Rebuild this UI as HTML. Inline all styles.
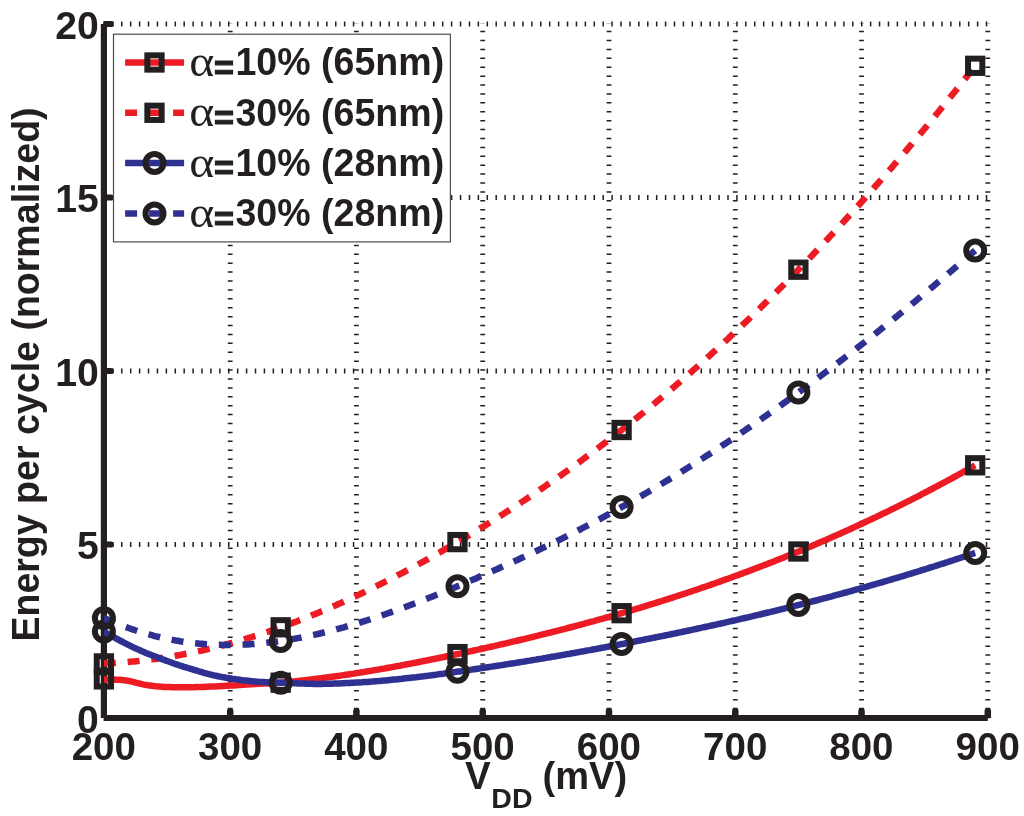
<!DOCTYPE html><html><head><meta charset="utf-8"><title>Energy per cycle vs VDD</title>
<style>html,body{margin:0;padding:0;background:#fff}svg{display:block}text{font-family:"Liberation Sans",sans-serif;font-weight:bold;fill:#231f20}.sym{font-family:"Liberation Serif",serif;font-weight:normal}</style></head><body>
<svg width="1024" height="816" viewBox="0 0 1024 816">
<rect width="1024" height="816" fill="#fff"/>
<g stroke="#231f20" stroke-width="4.8" fill="none">
<line x1="103.2" y1="544.5" x2="988.6" y2="544.5" stroke-dasharray="1.5 7.415"/>
<line x1="103.2" y1="371.0" x2="988.6" y2="371.0" stroke-dasharray="1.5 7.415"/>
<line x1="103.2" y1="197.5" x2="988.6" y2="197.5" stroke-dasharray="1.5 7.415"/>
<line x1="103.2" y1="24.0" x2="988.6" y2="24.0" stroke-dasharray="1.5 7.415"/>
<line x1="230.2" y1="718.2" x2="230.2" y2="23.3" stroke-dasharray="1.5 7.407"/>
<line x1="356.4" y1="718.2" x2="356.4" y2="23.3" stroke-dasharray="1.5 7.407"/>
<line x1="482.7" y1="718.2" x2="482.7" y2="23.3" stroke-dasharray="1.5 7.407"/>
<line x1="609.0" y1="718.2" x2="609.0" y2="23.3" stroke-dasharray="1.5 7.407"/>
<line x1="735.3" y1="718.2" x2="735.3" y2="23.3" stroke-dasharray="1.5 7.407"/>
<line x1="861.5" y1="718.2" x2="861.5" y2="23.3" stroke-dasharray="1.5 7.407"/>
<line x1="987.8" y1="718.2" x2="987.8" y2="23.3" stroke-dasharray="1.5 7.407"/>
</g>
<g fill="#231f20" stroke="none">
<rect x="100.8" y="24.0" width="6.2" height="694.0"/>
<rect x="103.6" y="715.0" width="884.2" height="6"/>
<path d="M226.92,718.0 V711.25 A3.25 3.25 0 0 1 233.42,711.25 V718.0 Z"/>
<path d="M353.19,718.0 V711.25 A3.25 3.25 0 0 1 359.69,711.25 V718.0 Z"/>
<path d="M479.46,718.0 V711.25 A3.25 3.25 0 0 1 485.96,711.25 V718.0 Z"/>
<path d="M605.74,718.0 V711.25 A3.25 3.25 0 0 1 612.24,711.25 V718.0 Z"/>
<path d="M732.01,718.0 V711.25 A3.25 3.25 0 0 1 738.51,711.25 V718.0 Z"/>
<path d="M858.28,718.0 V711.25 A3.25 3.25 0 0 1 864.78,711.25 V718.0 Z"/>
<path d="M984.55,718.0 V711.25 A3.25 3.25 0 0 1 991.05,711.25 V718.0 Z"/>
<path d="M103.9,541.40 H110.80 A3.1 3.1 0 0 1 110.80,547.60 H103.9 Z"/>
<path d="M103.9,367.90 H110.80 A3.1 3.1 0 0 1 110.80,374.10 H103.9 Z"/>
<path d="M103.9,194.40 H110.80 A3.1 3.1 0 0 1 110.80,200.60 H103.9 Z"/>
<path d="M103.9,20.90 H110.80 A3.1 3.1 0 0 1 110.80,27.10 H103.9 Z"/>
</g>
<clipPath id="c"><rect x="103.9" y="0" width="900" height="816"/></clipPath>
<path d="M103.9,679.4 L105.9,679.5 L107.9,679.5 L109.9,679.5 L111.9,679.6 L113.9,679.6 L115.9,679.7 L117.9,679.7 L119.9,679.8 L121.9,680.0 L123.9,680.2 L125.9,680.4 L127.9,680.7 L129.9,681.1 L131.9,681.6 L133.9,682.1 L135.9,682.7 L137.9,683.2 L139.9,683.7 L141.9,684.2 L143.9,684.6 L145.9,684.9 L147.9,685.3 L149.9,685.6 L151.9,685.8 L153.9,686.1 L155.9,686.3 L157.9,686.4 L159.9,686.6 L161.9,686.7 L163.9,686.9 L165.9,687.0 L167.9,687.1 L169.9,687.1 L171.9,687.2 L173.9,687.2 L175.9,687.3 L177.9,687.3 L179.9,687.3 L181.9,687.3 L183.9,687.3 L185.9,687.3 L187.9,687.3 L189.9,687.3 L191.9,687.2 L193.9,687.2 L195.9,687.1 L197.9,687.1 L199.9,687.0 L201.9,687.0 L203.9,686.9 L205.9,686.8 L207.9,686.7 L209.9,686.6 L211.9,686.6 L213.9,686.5 L215.9,686.4 L217.9,686.3 L219.9,686.2 L221.9,686.1 L223.9,686.0 L225.9,685.8 L227.9,685.7 L229.9,685.6 L231.9,685.5 L233.9,685.4 L235.9,685.3 L237.9,685.1 L239.9,685.0 L241.9,684.8 L243.9,684.7 L245.9,684.6 L247.9,684.4 L249.9,684.3 L251.9,684.2 L253.9,684.0 L255.9,683.9 L257.9,683.8 L259.9,683.7 L261.9,683.6 L263.9,683.5 L265.9,683.5 L267.9,683.4 L269.9,683.3 L271.9,683.2 L273.9,683.1 L275.9,683.0 L277.9,682.9 L279.9,682.8 L281.9,682.6 L283.9,682.5 L285.9,682.3 L287.9,682.1 L289.9,681.9 L291.9,681.7 L293.9,681.5 L295.9,681.3 L297.9,681.1 L299.9,680.8 L301.9,680.6 L303.9,680.4 L305.9,680.1 L307.9,679.9 L309.9,679.6 L311.9,679.4 L313.9,679.1 L315.9,678.9 L317.9,678.6 L319.9,678.4 L321.9,678.1 L323.9,677.8 L325.9,677.6 L327.9,677.3 L329.9,677.0 L331.9,676.8 L333.9,676.5 L335.9,676.2 L337.9,675.9 L339.9,675.7 L341.9,675.4 L343.9,675.1 L345.9,674.8 L347.9,674.5 L349.9,674.2 L351.9,673.9 L353.9,673.6 L355.9,673.2 L357.9,672.9 L359.9,672.6 L361.9,672.3 L363.9,672.0 L365.9,671.6 L367.9,671.3 L369.9,671.0 L371.9,670.6 L373.9,670.3 L375.9,669.9 L377.9,669.6 L379.9,669.3 L381.9,668.9 L383.9,668.6 L385.9,668.2 L387.9,667.8 L389.9,667.5 L391.9,667.1 L393.9,666.8 L395.9,666.4 L397.9,666.0 L399.9,665.7 L401.9,665.3 L403.9,664.9 L405.9,664.5 L407.9,664.1 L409.9,663.8 L411.9,663.4 L413.9,663.0 L415.9,662.6 L417.9,662.2 L419.9,661.8 L421.9,661.4 L423.9,661.0 L425.9,660.6 L427.9,660.2 L429.9,659.8 L431.9,659.4 L433.9,659.0 L435.9,658.6 L437.9,658.2 L439.9,657.8 L441.9,657.4 L443.9,657.0 L445.9,656.5 L447.9,656.1 L449.9,655.7 L451.9,655.3 L453.9,654.9 L455.9,654.4 L457.9,654.0 L459.9,653.6 L461.9,653.1 L463.9,652.7 L465.9,652.3 L467.9,651.9 L469.9,651.4 L471.9,651.0 L473.9,650.5 L475.9,650.1 L477.9,649.7 L479.9,649.2 L481.9,648.8 L483.9,648.3 L485.9,647.9 L487.9,647.4 L489.9,647.0 L491.9,646.5 L493.9,646.1 L495.9,645.6 L497.9,645.2 L499.9,644.7 L501.9,644.2 L503.9,643.8 L505.9,643.3 L507.9,642.9 L509.9,642.4 L511.9,641.9 L513.9,641.4 L515.9,641.0 L517.9,640.5 L519.9,640.0 L521.9,639.5 L523.9,639.1 L525.9,638.6 L527.9,638.1 L529.9,637.6 L531.9,637.1 L533.9,636.6 L535.9,636.1 L537.9,635.7 L539.9,635.2 L541.9,634.7 L543.9,634.2 L545.9,633.7 L547.9,633.2 L549.9,632.7 L551.9,632.2 L553.9,631.6 L555.9,631.1 L557.9,630.6 L559.9,630.1 L561.9,629.6 L563.9,629.1 L565.9,628.6 L567.9,628.0 L569.9,627.5 L571.9,627.0 L573.9,626.5 L575.9,625.9 L577.9,625.4 L579.9,624.9 L581.9,624.3 L583.9,623.8 L585.9,623.2 L587.9,622.7 L589.9,622.1 L591.9,621.6 L593.9,621.1 L595.9,620.5 L597.9,619.9 L599.9,619.4 L601.9,618.8 L603.9,618.3 L605.9,617.7 L607.9,617.1 L609.9,616.6 L611.9,616.0 L613.9,615.4 L615.9,614.9 L617.9,614.3 L619.9,613.7 L621.9,613.1 L623.9,612.5 L625.9,611.9 L627.9,611.4 L629.9,610.8 L631.9,610.2 L633.9,609.6 L635.9,609.0 L637.9,608.4 L639.9,607.8 L641.9,607.2 L643.9,606.6 L645.9,605.9 L647.9,605.3 L649.9,604.7 L651.9,604.1 L653.9,603.5 L655.9,602.9 L657.9,602.2 L659.9,601.6 L661.9,601.0 L663.9,600.3 L665.9,599.7 L667.9,599.1 L669.9,598.4 L671.9,597.8 L673.9,597.1 L675.9,596.5 L677.9,595.8 L679.9,595.2 L681.9,594.5 L683.9,593.9 L685.9,593.2 L687.9,592.5 L689.9,591.9 L691.9,591.2 L693.9,590.5 L695.9,589.9 L697.9,589.2 L699.9,588.5 L701.9,587.8 L703.9,587.1 L705.9,586.5 L707.9,585.8 L709.9,585.1 L711.9,584.4 L713.9,583.7 L715.9,583.0 L717.9,582.3 L719.9,581.6 L721.9,580.8 L723.9,580.1 L725.9,579.4 L727.9,578.7 L729.9,578.0 L731.9,577.3 L733.9,576.5 L735.9,575.8 L737.9,575.1 L739.9,574.3 L741.9,573.6 L743.9,572.8 L745.9,572.1 L747.9,571.4 L749.9,570.6 L751.9,569.9 L753.9,569.1 L755.9,568.3 L757.9,567.6 L759.9,566.8 L761.9,566.0 L763.9,565.3 L765.9,564.5 L767.9,563.7 L769.9,562.9 L771.9,562.2 L773.9,561.4 L775.9,560.6 L777.9,559.8 L779.9,559.0 L781.9,558.2 L783.9,557.4 L785.9,556.6 L787.9,555.8 L789.9,555.0 L791.9,554.2 L793.9,553.3 L795.9,552.5 L797.9,551.7 L799.9,550.9 L801.9,550.0 L803.9,549.2 L805.9,548.4 L807.9,547.5 L809.9,546.7 L811.9,545.9 L813.9,545.0 L815.9,544.2 L817.9,543.3 L819.9,542.4 L821.9,541.6 L823.9,540.7 L825.9,539.9 L827.9,539.0 L829.9,538.1 L831.9,537.2 L833.9,536.3 L835.9,535.5 L837.9,534.6 L839.9,533.7 L841.9,532.8 L843.9,531.9 L845.9,531.0 L847.9,530.1 L849.9,529.2 L851.9,528.3 L853.9,527.4 L855.9,526.4 L857.9,525.5 L859.9,524.6 L861.9,523.7 L863.9,522.7 L865.9,521.8 L867.9,520.9 L869.9,519.9 L871.9,519.0 L873.9,518.0 L875.9,517.1 L877.9,516.1 L879.9,515.2 L881.9,514.2 L883.9,513.2 L885.9,512.3 L887.9,511.3 L889.9,510.3 L891.9,509.3 L893.9,508.4 L895.9,507.4 L897.9,506.4 L899.9,505.4 L901.9,504.4 L903.9,503.4 L905.9,502.4 L907.9,501.4 L909.9,500.4 L911.9,499.4 L913.9,498.3 L915.9,497.3 L917.9,496.3 L919.9,495.3 L921.9,494.2 L923.9,493.2 L925.9,492.1 L927.9,491.1 L929.9,490.0 L931.9,489.0 L933.9,487.9 L935.9,486.9 L937.9,485.8 L939.9,484.7 L941.9,483.7 L943.9,482.6 L945.9,481.5 L947.9,480.4 L949.9,479.4 L951.9,478.3 L953.9,477.2 L955.9,476.1 L957.9,475.0 L959.9,473.9 L961.9,472.8 L963.9,471.6 L965.9,470.5 L967.9,469.4 L969.9,468.3 L971.9,467.2 L973.9,466.0 L975.2,465.3" fill="none" stroke="#ed1c24" stroke-width="6.5" clip-path="url(#c)"/>
<g fill="none" stroke="#231f20" stroke-width="6.0">
<rect x="96.75" y="672.25" width="14.3" height="14.3"/>
<rect x="273.53" y="675.55" width="14.3" height="14.3"/>
<rect x="450.31" y="646.95" width="14.3" height="14.3"/>
<rect x="614.46" y="606.05" width="14.3" height="14.3"/>
<rect x="791.24" y="544.35" width="14.3" height="14.3"/>
<rect x="968.02" y="458.15" width="14.3" height="14.3"/>
</g>
<path d="M103.9,663.4 L105.9,663.3 L107.9,663.2 L109.9,663.2 L111.9,663.1 L113.9,663.0 L115.9,662.8 L117.9,662.7 L119.9,662.6 L121.9,662.5 L123.9,662.3 L125.9,662.2 L127.9,662.0 L129.9,661.8 L131.9,661.6 L133.9,661.5 L135.9,661.3 L137.9,661.1 L139.9,660.8 L141.9,660.6 L143.9,660.4 L145.9,660.2 L147.9,659.9 L149.9,659.7 L151.9,659.4 L153.9,659.1 L155.9,658.9 L157.9,658.6 L159.9,658.3 L161.9,658.0 L163.9,657.7 L165.9,657.4 L167.9,657.1 L169.9,656.7 L171.9,656.4 L173.9,656.1 L175.9,655.7 L177.9,655.3 L179.9,655.0 L181.9,654.6 L183.9,654.2 L185.9,653.8 L187.9,653.4 L189.9,653.0 L191.9,652.6 L193.9,652.2 L195.9,651.8 L197.9,651.3 L199.9,650.9 L201.9,650.5 L203.9,650.0 L205.9,649.5 L207.9,649.1 L209.9,648.6 L211.9,648.1 L213.9,647.6 L215.9,647.1 L217.9,646.6 L219.9,646.1 L221.9,645.6 L223.9,645.1 L225.9,644.5 L227.9,644.0 L229.9,643.4 L231.9,642.9 L233.9,642.3 L235.9,641.8 L237.9,641.2 L239.9,640.6 L241.9,640.0 L243.9,639.4 L245.9,638.8 L247.9,638.2 L249.9,637.6 L251.9,637.0 L253.9,636.3 L255.9,635.7 L257.9,635.1 L259.9,634.4 L261.9,633.8 L263.9,633.1 L265.9,632.4 L267.9,631.8 L269.9,631.1 L271.9,630.4 L273.9,629.7 L275.9,629.0 L277.9,628.3 L279.9,627.6 L281.9,626.9 L283.9,626.1 L285.9,625.4 L287.9,624.7 L289.9,623.9 L291.9,623.2 L293.9,622.4 L295.9,621.7 L297.9,620.9 L299.9,620.1 L301.9,619.3 L303.9,618.5 L305.9,617.8 L307.9,617.0 L309.9,616.2 L311.9,615.3 L313.9,614.5 L315.9,613.7 L317.9,612.9 L319.9,612.0 L321.9,611.2 L323.9,610.4 L325.9,609.5 L327.9,608.7 L329.9,607.8 L331.9,606.9 L333.9,606.0 L335.9,605.2 L337.9,604.3 L339.9,603.4 L341.9,602.5 L343.9,601.6 L345.9,600.7 L347.9,599.8 L349.9,598.9 L351.9,597.9 L353.9,597.0 L355.9,596.1 L357.9,595.1 L359.9,594.2 L361.9,593.2 L363.9,592.3 L365.9,591.3 L367.9,590.4 L369.9,589.4 L371.9,588.4 L373.9,587.4 L375.9,586.4 L377.9,585.4 L379.9,584.4 L381.9,583.4 L383.9,582.4 L385.9,581.4 L387.9,580.4 L389.9,579.4 L391.9,578.4 L393.9,577.3 L395.9,576.3 L397.9,575.2 L399.9,574.2 L401.9,573.2 L403.9,572.1 L405.9,571.0 L407.9,570.0 L409.9,568.9 L411.9,567.8 L413.9,566.7 L415.9,565.7 L417.9,564.6 L419.9,563.5 L421.9,562.4 L423.9,561.3 L425.9,560.2 L427.9,559.1 L429.9,557.9 L431.9,556.8 L433.9,555.7 L435.9,554.6 L437.9,553.4 L439.9,552.3 L441.9,551.1 L443.9,550.0 L445.9,548.8 L447.9,547.7 L449.9,546.5 L451.9,545.4 L453.9,544.2 L455.9,543.0 L457.9,541.8 L459.9,540.7 L461.9,539.5 L463.9,538.3 L465.9,537.1 L467.9,535.9 L469.9,534.7 L471.9,533.5 L473.9,532.3 L475.9,531.1 L477.9,529.8 L479.9,528.6 L481.9,527.4 L483.9,526.2 L485.9,524.9 L487.9,523.7 L489.9,522.4 L491.9,521.2 L493.9,519.9 L495.9,518.7 L497.9,517.4 L499.9,516.1 L501.9,514.9 L503.9,513.6 L505.9,512.3 L507.9,511.0 L509.9,509.7 L511.9,508.4 L513.9,507.1 L515.9,505.8 L517.9,504.5 L519.9,503.2 L521.9,501.9 L523.9,500.6 L525.9,499.3 L527.9,497.9 L529.9,496.6 L531.9,495.2 L533.9,493.9 L535.9,492.5 L537.9,491.2 L539.9,489.8 L541.9,488.5 L543.9,487.1 L545.9,485.7 L547.9,484.3 L549.9,483.0 L551.9,481.6 L553.9,480.2 L555.9,478.8 L557.9,477.4 L559.9,476.0 L561.9,474.6 L563.9,473.1 L565.9,471.7 L567.9,470.3 L569.9,468.9 L571.9,467.4 L573.9,466.0 L575.9,464.5 L577.9,463.1 L579.9,461.6 L581.9,460.1 L583.9,458.7 L585.9,457.2 L587.9,455.7 L589.9,454.2 L591.9,452.7 L593.9,451.3 L595.9,449.8 L597.9,448.3 L599.9,446.7 L601.9,445.2 L603.9,443.7 L605.9,442.2 L607.9,440.6 L609.9,439.1 L611.9,437.6 L613.9,436.0 L615.9,434.5 L617.9,432.9 L619.9,431.3 L621.9,429.8 L623.9,428.2 L625.9,426.6 L627.9,425.0 L629.9,423.4 L631.9,421.8 L633.9,420.2 L635.9,418.6 L637.9,417.0 L639.9,415.4 L641.9,413.8 L643.9,412.2 L645.9,410.5 L647.9,408.9 L649.9,407.2 L651.9,405.6 L653.9,403.9 L655.9,402.3 L657.9,400.6 L659.9,398.9 L661.9,397.2 L663.9,395.6 L665.9,393.9 L667.9,392.2 L669.9,390.5 L671.9,388.8 L673.9,387.1 L675.9,385.3 L677.9,383.6 L679.9,381.9 L681.9,380.2 L683.9,378.4 L685.9,376.7 L687.9,374.9 L689.9,373.2 L691.9,371.4 L693.9,369.6 L695.9,367.9 L697.9,366.1 L699.9,364.3 L701.9,362.5 L703.9,360.7 L705.9,358.9 L707.9,357.1 L709.9,355.3 L711.9,353.5 L713.9,351.7 L715.9,349.9 L717.9,348.0 L719.9,346.2 L721.9,344.3 L723.9,342.5 L725.9,340.6 L727.9,338.8 L729.9,336.9 L731.9,335.0 L733.9,333.2 L735.9,331.3 L737.9,329.4 L739.9,327.5 L741.9,325.6 L743.9,323.7 L745.9,321.8 L747.9,319.9 L749.9,318.0 L751.9,316.0 L753.9,314.1 L755.9,312.2 L757.9,310.2 L759.9,308.3 L761.9,306.3 L763.9,304.4 L765.9,302.4 L767.9,300.4 L769.9,298.5 L771.9,296.5 L773.9,294.5 L775.9,292.5 L777.9,290.5 L779.9,288.5 L781.9,286.5 L783.9,284.5 L785.9,282.4 L787.9,280.4 L789.9,278.4 L791.9,276.4 L793.9,274.3 L795.9,272.3 L797.9,270.2 L799.9,268.1 L801.9,266.1 L803.9,264.0 L805.9,261.9 L807.9,259.9 L809.9,257.8 L811.9,255.7 L813.9,253.6 L815.9,251.5 L817.9,249.4 L819.9,247.2 L821.9,245.1 L823.9,243.0 L825.9,240.9 L827.9,238.7 L829.9,236.6 L831.9,234.4 L833.9,232.3 L835.9,230.1 L837.9,228.0 L839.9,225.8 L841.9,223.6 L843.9,221.4 L845.9,219.2 L847.9,217.0 L849.9,214.8 L851.9,212.6 L853.9,210.4 L855.9,208.2 L857.9,206.0 L859.9,203.8 L861.9,201.5 L863.9,199.3 L865.9,197.0 L867.9,194.8 L869.9,192.5 L871.9,190.3 L873.9,188.0 L875.9,185.7 L877.9,183.5 L879.9,181.2 L881.9,178.9 L883.9,176.6 L885.9,174.3 L887.9,172.0 L889.9,169.7 L891.9,167.4 L893.9,165.0 L895.9,162.7 L897.9,160.4 L899.9,158.0 L901.9,155.7 L903.9,153.3 L905.9,151.0 L907.9,148.6 L909.9,146.2 L911.9,143.9 L913.9,141.5 L915.9,139.1 L917.9,136.7 L919.9,134.3 L921.9,131.9 L923.9,129.5 L925.9,127.1 L927.9,124.7 L929.9,122.2 L931.9,119.8 L933.9,117.4 L935.9,114.9 L937.9,112.5 L939.9,110.0 L941.9,107.6 L943.9,105.1 L945.9,102.6 L947.9,100.1 L949.9,97.7 L951.9,95.2 L953.9,92.7 L955.9,90.2 L957.9,87.7 L959.9,85.2 L961.9,82.6 L963.9,80.1 L965.9,77.6 L967.9,75.1 L969.9,72.5 L971.9,70.0 L973.9,67.4 L975.2,65.8" fill="none" stroke="#ed1c24" stroke-width="6.5" clip-path="url(#c)" stroke-dasharray="12 11.745"/>
<g fill="none" stroke="#231f20" stroke-width="6.0">
<rect x="96.75" y="656.25" width="14.3" height="14.3"/>
<rect x="273.53" y="620.15" width="14.3" height="14.3"/>
<rect x="450.31" y="534.95" width="14.3" height="14.3"/>
<rect x="614.46" y="422.85" width="14.3" height="14.3"/>
<rect x="791.24" y="262.55" width="14.3" height="14.3"/>
<rect x="968.02" y="58.65" width="14.3" height="14.3"/>
</g>
<path d="M103.9,631.6 L105.9,632.7 L107.9,633.9 L109.9,635.0 L111.9,636.1 L113.9,637.2 L115.9,638.3 L117.9,639.4 L119.9,640.5 L121.9,641.5 L123.9,642.6 L125.9,643.6 L127.9,644.6 L129.9,645.6 L131.9,646.6 L133.9,647.6 L135.9,648.5 L137.9,649.4 L139.9,650.3 L141.9,651.2 L143.9,652.0 L145.9,652.9 L147.9,653.7 L149.9,654.5 L151.9,655.3 L153.9,656.0 L155.9,656.8 L157.9,657.6 L159.9,658.3 L161.9,659.1 L163.9,659.8 L165.9,660.6 L167.9,661.3 L169.9,662.0 L171.9,662.8 L173.9,663.5 L175.9,664.2 L177.9,664.8 L179.9,665.5 L181.9,666.1 L183.9,666.8 L185.9,667.4 L187.9,668.0 L189.9,668.6 L191.9,669.2 L193.9,669.8 L195.9,670.4 L197.9,671.0 L199.9,671.6 L201.9,672.2 L203.9,672.8 L205.9,673.3 L207.9,673.9 L209.9,674.4 L211.9,674.9 L213.9,675.4 L215.9,675.8 L217.9,676.2 L219.9,676.6 L221.9,677.0 L223.9,677.3 L225.9,677.7 L227.9,678.0 L229.9,678.3 L231.9,678.7 L233.9,679.0 L235.9,679.3 L237.9,679.6 L239.9,679.8 L241.9,680.1 L243.9,680.4 L245.9,680.6 L247.9,680.8 L249.9,681.0 L251.9,681.2 L253.9,681.4 L255.9,681.6 L257.9,681.7 L259.9,681.9 L261.9,682.0 L263.9,682.1 L265.9,682.2 L267.9,682.3 L269.9,682.4 L271.9,682.4 L273.9,682.5 L275.9,682.6 L277.9,682.6 L279.9,682.7 L281.9,682.7 L283.9,682.8 L285.9,682.9 L287.9,683.0 L289.9,683.1 L291.9,683.1 L293.9,683.2 L295.9,683.3 L297.9,683.4 L299.9,683.5 L301.9,683.6 L303.9,683.6 L305.9,683.7 L307.9,683.7 L309.9,683.8 L311.9,683.8 L313.9,683.9 L315.9,683.9 L317.9,683.9 L319.9,683.9 L321.9,683.9 L323.9,683.8 L325.9,683.8 L327.9,683.8 L329.9,683.7 L331.9,683.7 L333.9,683.6 L335.9,683.5 L337.9,683.5 L339.9,683.4 L341.9,683.3 L343.9,683.2 L345.9,683.1 L347.9,683.1 L349.9,683.0 L351.9,682.8 L353.9,682.7 L355.9,682.6 L357.9,682.5 L359.9,682.4 L361.9,682.3 L363.9,682.1 L365.9,682.0 L367.9,681.9 L369.9,681.7 L371.9,681.6 L373.9,681.4 L375.9,681.2 L377.9,681.1 L379.9,680.9 L381.9,680.7 L383.9,680.5 L385.9,680.4 L387.9,680.2 L389.9,680.0 L391.9,679.8 L393.9,679.6 L395.9,679.4 L397.9,679.2 L399.9,679.0 L401.9,678.8 L403.9,678.5 L405.9,678.3 L407.9,678.1 L409.9,677.9 L411.9,677.6 L413.9,677.4 L415.9,677.2 L417.9,676.9 L419.9,676.7 L421.9,676.4 L423.9,676.2 L425.9,675.9 L427.9,675.7 L429.9,675.4 L431.9,675.2 L433.9,674.9 L435.9,674.7 L437.9,674.4 L439.9,674.1 L441.9,673.9 L443.9,673.6 L445.9,673.3 L447.9,673.0 L449.9,672.8 L451.9,672.5 L453.9,672.2 L455.9,671.9 L457.9,671.6 L459.9,671.4 L461.9,671.1 L463.9,670.8 L465.9,670.5 L467.9,670.2 L469.9,669.9 L471.9,669.6 L473.9,669.3 L475.9,669.0 L477.9,668.7 L479.9,668.4 L481.9,668.1 L483.9,667.8 L485.9,667.5 L487.9,667.2 L489.9,666.9 L491.9,666.6 L493.9,666.3 L495.9,666.0 L497.9,665.7 L499.9,665.4 L501.9,665.1 L503.9,664.8 L505.9,664.4 L507.9,664.1 L509.9,663.8 L511.9,663.5 L513.9,663.2 L515.9,662.9 L517.9,662.5 L519.9,662.2 L521.9,661.9 L523.9,661.6 L525.9,661.2 L527.9,660.9 L529.9,660.6 L531.9,660.2 L533.9,659.9 L535.9,659.6 L537.9,659.2 L539.9,658.9 L541.9,658.6 L543.9,658.2 L545.9,657.9 L547.9,657.5 L549.9,657.2 L551.9,656.8 L553.9,656.5 L555.9,656.2 L557.9,655.8 L559.9,655.5 L561.9,655.1 L563.9,654.8 L565.9,654.4 L567.9,654.0 L569.9,653.7 L571.9,653.3 L573.9,653.0 L575.9,652.6 L577.9,652.3 L579.9,651.9 L581.9,651.5 L583.9,651.2 L585.9,650.8 L587.9,650.4 L589.9,650.1 L591.9,649.7 L593.9,649.3 L595.9,649.0 L597.9,648.6 L599.9,648.2 L601.9,647.8 L603.9,647.5 L605.9,647.1 L607.9,646.7 L609.9,646.3 L611.9,646.0 L613.9,645.6 L615.9,645.2 L617.9,644.8 L619.9,644.4 L621.9,644.0 L623.9,643.7 L625.9,643.3 L627.9,642.9 L629.9,642.5 L631.9,642.1 L633.9,641.7 L635.9,641.3 L637.9,640.9 L639.9,640.5 L641.9,640.1 L643.9,639.7 L645.9,639.3 L647.9,638.9 L649.9,638.5 L651.9,638.1 L653.9,637.7 L655.9,637.3 L657.9,636.9 L659.9,636.5 L661.9,636.1 L663.9,635.7 L665.9,635.3 L667.9,634.9 L669.9,634.5 L671.9,634.0 L673.9,633.6 L675.9,633.2 L677.9,632.8 L679.9,632.4 L681.9,632.0 L683.9,631.5 L685.9,631.1 L687.9,630.7 L689.9,630.3 L691.9,629.8 L693.9,629.4 L695.9,629.0 L697.9,628.5 L699.9,628.1 L701.9,627.7 L703.9,627.2 L705.9,626.8 L707.9,626.4 L709.9,625.9 L711.9,625.5 L713.9,625.0 L715.9,624.6 L717.9,624.1 L719.9,623.7 L721.9,623.3 L723.9,622.8 L725.9,622.4 L727.9,621.9 L729.9,621.4 L731.9,621.0 L733.9,620.5 L735.9,620.1 L737.9,619.6 L739.9,619.2 L741.9,618.7 L743.9,618.2 L745.9,617.8 L747.9,617.3 L749.9,616.8 L751.9,616.4 L753.9,615.9 L755.9,615.4 L757.9,614.9 L759.9,614.5 L761.9,614.0 L763.9,613.5 L765.9,613.0 L767.9,612.5 L769.9,612.1 L771.9,611.6 L773.9,611.1 L775.9,610.6 L777.9,610.1 L779.9,609.6 L781.9,609.1 L783.9,608.6 L785.9,608.1 L787.9,607.6 L789.9,607.1 L791.9,606.6 L793.9,606.1 L795.9,605.6 L797.9,605.1 L799.9,604.6 L801.9,604.1 L803.9,603.6 L805.9,603.1 L807.9,602.6 L809.9,602.1 L811.9,601.5 L813.9,601.0 L815.9,600.5 L817.9,600.0 L819.9,599.4 L821.9,598.9 L823.9,598.4 L825.9,597.9 L827.9,597.3 L829.9,596.8 L831.9,596.3 L833.9,595.7 L835.9,595.2 L837.9,594.6 L839.9,594.1 L841.9,593.6 L843.9,593.0 L845.9,592.5 L847.9,591.9 L849.9,591.4 L851.9,590.8 L853.9,590.2 L855.9,589.7 L857.9,589.1 L859.9,588.6 L861.9,588.0 L863.9,587.4 L865.9,586.9 L867.9,586.3 L869.9,585.7 L871.9,585.2 L873.9,584.6 L875.9,584.0 L877.9,583.4 L879.9,582.9 L881.9,582.3 L883.9,581.7 L885.9,581.1 L887.9,580.5 L889.9,579.9 L891.9,579.3 L893.9,578.7 L895.9,578.2 L897.9,577.6 L899.9,577.0 L901.9,576.4 L903.9,575.8 L905.9,575.1 L907.9,574.5 L909.9,573.9 L911.9,573.3 L913.9,572.7 L915.9,572.1 L917.9,571.5 L919.9,570.9 L921.9,570.2 L923.9,569.6 L925.9,569.0 L927.9,568.4 L929.9,567.7 L931.9,567.1 L933.9,566.5 L935.9,565.8 L937.9,565.2 L939.9,564.5 L941.9,563.9 L943.9,563.3 L945.9,562.6 L947.9,562.0 L949.9,561.3 L951.9,560.7 L953.9,560.0 L955.9,559.3 L957.9,558.7 L959.9,558.0 L961.9,557.4 L963.9,556.7 L965.9,556.0 L967.9,555.4 L969.9,554.7 L971.9,554.0 L973.9,553.3 L975.2,552.9" fill="none" stroke="#2e3192" stroke-width="6.5" clip-path="url(#c)"/>
<g fill="none" stroke="#231f20" stroke-width="6.0">
<circle cx="103.9" cy="631.6" r="9.0"/>
<circle cx="280.7" cy="682.7" r="9.0"/>
<circle cx="457.5" cy="671.7" r="9.0"/>
<circle cx="621.6" cy="644.1" r="9.0"/>
<circle cx="798.4" cy="605.0" r="9.0"/>
<circle cx="975.2" cy="552.9" r="9.0"/>
</g>
<path d="M103.9,617.9 L105.9,618.8 L107.9,619.7 L109.9,620.6 L111.9,621.5 L113.9,622.3 L115.9,623.1 L117.9,623.9 L119.9,624.7 L121.9,625.5 L123.9,626.3 L125.9,627.0 L127.9,627.8 L129.9,628.5 L131.9,629.2 L133.9,629.8 L135.9,630.5 L137.9,631.2 L139.9,631.8 L141.9,632.4 L143.9,633.0 L145.9,633.6 L147.9,634.2 L149.9,634.7 L151.9,635.2 L153.9,635.8 L155.9,636.3 L157.9,636.8 L159.9,637.2 L161.9,637.7 L163.9,638.1 L165.9,638.6 L167.9,639.0 L169.9,639.4 L171.9,639.8 L173.9,640.1 L175.9,640.5 L177.9,640.8 L179.9,641.2 L181.9,641.5 L183.9,641.8 L185.9,642.1 L187.9,642.3 L189.9,642.6 L191.9,642.8 L193.9,643.1 L195.9,643.3 L197.9,643.5 L199.9,643.7 L201.9,643.8 L203.9,644.0 L205.9,644.2 L207.9,644.3 L209.9,644.4 L211.9,644.5 L213.9,644.6 L215.9,644.7 L217.9,644.8 L219.9,644.8 L221.9,644.9 L223.9,644.9 L225.9,644.9 L227.9,644.9 L229.9,644.9 L231.9,644.9 L233.9,644.9 L235.9,644.8 L237.9,644.8 L239.9,644.7 L241.9,644.7 L243.9,644.6 L245.9,644.5 L247.9,644.4 L249.9,644.2 L251.9,644.1 L253.9,644.0 L255.9,643.8 L257.9,643.6 L259.9,643.5 L261.9,643.3 L263.9,643.1 L265.9,642.9 L267.9,642.6 L269.9,642.4 L271.9,642.2 L273.9,641.9 L275.9,641.7 L277.9,641.4 L279.9,641.1 L281.9,640.8 L283.9,640.5 L285.9,640.2 L287.9,639.9 L289.9,639.6 L291.9,639.2 L293.9,638.9 L295.9,638.5 L297.9,638.1 L299.9,637.8 L301.9,637.4 L303.9,637.0 L305.9,636.6 L307.9,636.2 L309.9,635.7 L311.9,635.3 L313.9,634.9 L315.9,634.4 L317.9,634.0 L319.9,633.5 L321.9,633.0 L323.9,632.5 L325.9,632.0 L327.9,631.5 L329.9,631.0 L331.9,630.5 L333.9,630.0 L335.9,629.5 L337.9,628.9 L339.9,628.4 L341.9,627.8 L343.9,627.3 L345.9,626.7 L347.9,626.1 L349.9,625.6 L351.9,625.0 L353.9,624.4 L355.9,623.8 L357.9,623.2 L359.9,622.6 L361.9,621.9 L363.9,621.3 L365.9,620.7 L367.9,620.0 L369.9,619.4 L371.9,618.7 L373.9,618.1 L375.9,617.4 L377.9,616.7 L379.9,616.1 L381.9,615.4 L383.9,614.7 L385.9,614.0 L387.9,613.3 L389.9,612.6 L391.9,611.9 L393.9,611.2 L395.9,610.4 L397.9,609.7 L399.9,609.0 L401.9,608.2 L403.9,607.5 L405.9,606.8 L407.9,606.0 L409.9,605.3 L411.9,604.5 L413.9,603.7 L415.9,603.0 L417.9,602.2 L419.9,601.4 L421.9,600.6 L423.9,599.9 L425.9,599.1 L427.9,598.3 L429.9,597.5 L431.9,596.7 L433.9,595.9 L435.9,595.1 L437.9,594.3 L439.9,593.5 L441.9,592.6 L443.9,591.8 L445.9,591.0 L447.9,590.2 L449.9,589.3 L451.9,588.5 L453.9,587.7 L455.9,586.9 L457.9,586.0 L459.9,585.2 L461.9,584.3 L463.9,583.5 L465.9,582.6 L467.9,581.8 L469.9,580.9 L471.9,580.1 L473.9,579.2 L475.9,578.4 L477.9,577.5 L479.9,576.6 L481.9,575.8 L483.9,574.9 L485.9,574.0 L487.9,573.2 L489.9,572.3 L491.9,571.4 L493.9,570.5 L495.9,569.6 L497.9,568.7 L499.9,567.8 L501.9,566.9 L503.9,566.0 L505.9,565.1 L507.9,564.2 L509.9,563.3 L511.9,562.4 L513.9,561.5 L515.9,560.6 L517.9,559.7 L519.9,558.7 L521.9,557.8 L523.9,556.9 L525.9,556.0 L527.9,555.0 L529.9,554.1 L531.9,553.1 L533.9,552.2 L535.9,551.2 L537.9,550.3 L539.9,549.3 L541.9,548.4 L543.9,547.4 L545.9,546.4 L547.9,545.5 L549.9,544.5 L551.9,543.5 L553.9,542.5 L555.9,541.6 L557.9,540.6 L559.9,539.6 L561.9,538.6 L563.9,537.6 L565.9,536.6 L567.9,535.6 L569.9,534.6 L571.9,533.6 L573.9,532.5 L575.9,531.5 L577.9,530.5 L579.9,529.5 L581.9,528.4 L583.9,527.4 L585.9,526.4 L587.9,525.3 L589.9,524.3 L591.9,523.2 L593.9,522.2 L595.9,521.1 L597.9,520.0 L599.9,519.0 L601.9,517.9 L603.9,516.8 L605.9,515.7 L607.9,514.7 L609.9,513.6 L611.9,512.5 L613.9,511.4 L615.9,510.3 L617.9,509.2 L619.9,508.1 L621.9,506.9 L623.9,505.8 L625.9,504.7 L627.9,503.6 L629.9,502.4 L631.9,501.3 L633.9,500.2 L635.9,499.0 L637.9,497.9 L639.9,496.7 L641.9,495.6 L643.9,494.4 L645.9,493.2 L647.9,492.1 L649.9,490.9 L651.9,489.7 L653.9,488.5 L655.9,487.3 L657.9,486.1 L659.9,484.9 L661.9,483.7 L663.9,482.5 L665.9,481.3 L667.9,480.1 L669.9,478.9 L671.9,477.7 L673.9,476.5 L675.9,475.2 L677.9,474.0 L679.9,472.8 L681.9,471.5 L683.9,470.3 L685.9,469.0 L687.9,467.8 L689.9,466.5 L691.9,465.3 L693.9,464.0 L695.9,462.7 L697.9,461.4 L699.9,460.2 L701.9,458.9 L703.9,457.6 L705.9,456.3 L707.9,455.0 L709.9,453.7 L711.9,452.4 L713.9,451.1 L715.9,449.8 L717.9,448.5 L719.9,447.2 L721.9,445.8 L723.9,444.5 L725.9,443.2 L727.9,441.9 L729.9,440.5 L731.9,439.2 L733.9,437.8 L735.9,436.5 L737.9,435.1 L739.9,433.8 L741.9,432.4 L743.9,431.1 L745.9,429.7 L747.9,428.3 L749.9,427.0 L751.9,425.6 L753.9,424.2 L755.9,422.8 L757.9,421.4 L759.9,420.0 L761.9,418.6 L763.9,417.2 L765.9,415.8 L767.9,414.4 L769.9,413.0 L771.9,411.6 L773.9,410.2 L775.9,408.7 L777.9,407.3 L779.9,405.9 L781.9,404.5 L783.9,403.0 L785.9,401.6 L787.9,400.1 L789.9,398.7 L791.9,397.2 L793.9,395.8 L795.9,394.3 L797.9,392.9 L799.9,391.4 L801.9,389.9 L803.9,388.5 L805.9,387.0 L807.9,385.5 L809.9,384.0 L811.9,382.5 L813.9,381.0 L815.9,379.5 L817.9,378.0 L819.9,376.5 L821.9,375.0 L823.9,373.5 L825.9,372.0 L827.9,370.5 L829.9,369.0 L831.9,367.5 L833.9,366.0 L835.9,364.4 L837.9,362.9 L839.9,361.4 L841.9,359.8 L843.9,358.3 L845.9,356.7 L847.9,355.2 L849.9,353.6 L851.9,352.1 L853.9,350.5 L855.9,349.0 L857.9,347.4 L859.9,345.8 L861.9,344.3 L863.9,342.7 L865.9,341.1 L867.9,339.5 L869.9,338.0 L871.9,336.4 L873.9,334.8 L875.9,333.2 L877.9,331.6 L879.9,330.0 L881.9,328.4 L883.9,326.8 L885.9,325.2 L887.9,323.6 L889.9,322.0 L891.9,320.3 L893.9,318.7 L895.9,317.1 L897.9,315.5 L899.9,313.8 L901.9,312.2 L903.9,310.6 L905.9,308.9 L907.9,307.3 L909.9,305.7 L911.9,304.0 L913.9,302.4 L915.9,300.7 L917.9,299.0 L919.9,297.4 L921.9,295.7 L923.9,294.1 L925.9,292.4 L927.9,290.7 L929.9,289.0 L931.9,287.4 L933.9,285.7 L935.9,284.0 L937.9,282.3 L939.9,280.6 L941.9,278.9 L943.9,277.2 L945.9,275.6 L947.9,273.9 L949.9,272.1 L951.9,270.4 L953.9,268.7 L955.9,267.0 L957.9,265.3 L959.9,263.6 L961.9,261.9 L963.9,260.2 L965.9,258.4 L967.9,256.7 L969.9,255.0 L971.9,253.2 L973.9,251.5 L975.2,250.4" fill="none" stroke="#2e3192" stroke-width="6.5" clip-path="url(#c)" stroke-dasharray="12 11.77"/>
<g fill="none" stroke="#231f20" stroke-width="6.0">
<circle cx="103.9" cy="617.9" r="9.0"/>
<circle cx="280.7" cy="641.0" r="9.0"/>
<circle cx="457.5" cy="586.2" r="9.0"/>
<circle cx="621.6" cy="507.1" r="9.0"/>
<circle cx="798.4" cy="392.5" r="9.0"/>
<circle cx="975.2" cy="250.4" r="9.0"/>
</g>
<rect x="113.5" y="34.2" width="336.9" height="207.7" fill="#fff" stroke="#4d4d4f" stroke-width="1.2"/>
<line x1="125.1" y1="62.5" x2="184.1" y2="62.5" stroke="#ed1c24" stroke-width="6.5"/>
<g fill="none" stroke="#231f20" stroke-width="6.0"><rect x="147.35" y="55.35" width="14.3" height="14.3"/></g>
<text class="sym" transform="translate(189.3,76.0) scale(1.195,1.10)" font-size="40">α</text>
<text transform="translate(214.1,79.5) scale(0.90,0.9)" font-size="38" stroke="#231f20" stroke-width="1.25">=</text>
<text x="235.4" y="75.3" font-size="38.5" textLength="208.8" lengthAdjust="spacingAndGlyphs">10% (65nm)</text>
<line x1="125.1" y1="112.8" x2="184.1" y2="112.8" stroke="#ed1c24" stroke-width="6.5" stroke-dasharray="12 12"/>
<g fill="none" stroke="#231f20" stroke-width="6.0"><rect x="147.35" y="105.65" width="14.3" height="14.3"/></g>
<text class="sym" transform="translate(189.3,126.3) scale(1.195,1.10)" font-size="40">α</text>
<text transform="translate(214.1,129.8) scale(0.90,0.9)" font-size="38" stroke="#231f20" stroke-width="1.25">=</text>
<text x="235.4" y="125.6" font-size="38.5" textLength="208.8" lengthAdjust="spacingAndGlyphs">30% (65nm)</text>
<line x1="125.1" y1="163.1" x2="184.1" y2="163.1" stroke="#2e3192" stroke-width="6.5"/>
<g fill="none" stroke="#231f20" stroke-width="6.0"><circle cx="154.5" cy="163.1" r="9.0"/></g>
<text class="sym" transform="translate(189.3,176.6) scale(1.195,1.10)" font-size="40">α</text>
<text transform="translate(214.1,180.1) scale(0.90,0.9)" font-size="38" stroke="#231f20" stroke-width="1.25">=</text>
<text x="235.4" y="175.9" font-size="38.5" textLength="208.8" lengthAdjust="spacingAndGlyphs">10% (28nm)</text>
<line x1="125.1" y1="213.6" x2="184.1" y2="213.6" stroke="#2e3192" stroke-width="6.5" stroke-dasharray="12 12"/>
<g fill="none" stroke="#231f20" stroke-width="6.0"><circle cx="154.5" cy="213.6" r="9.0"/></g>
<text class="sym" transform="translate(189.3,227.1) scale(1.195,1.10)" font-size="40">α</text>
<text transform="translate(214.1,230.6) scale(0.90,0.9)" font-size="38" stroke="#231f20" stroke-width="1.25">=</text>
<text x="235.4" y="226.4" font-size="38.5" textLength="208.8" lengthAdjust="spacingAndGlyphs">30% (28nm)</text>
<text x="103.8" y="760.4" font-size="38.5" text-anchor="middle">200</text>
<text x="230.1" y="760.4" font-size="38.5" text-anchor="middle">300</text>
<text x="356.3" y="760.4" font-size="38.5" text-anchor="middle">400</text>
<text x="482.6" y="760.4" font-size="38.5" text-anchor="middle">500</text>
<text x="608.9" y="760.4" font-size="38.5" text-anchor="middle">600</text>
<text x="735.2" y="760.4" font-size="38.5" text-anchor="middle">700</text>
<text x="861.4" y="760.4" font-size="38.5" text-anchor="middle">800</text>
<text x="987.7" y="760.4" font-size="38.5" text-anchor="middle">900</text>
<text x="98.9" y="732.9" font-size="39.2" text-anchor="end">0</text>
<text x="98.9" y="559.4" font-size="39.2" text-anchor="end">5</text>
<text x="98.9" y="385.9" font-size="39.2" text-anchor="end">10</text>
<text x="98.9" y="212.4" font-size="39.2" text-anchor="end">15</text>
<text x="98.9" y="38.9" font-size="39.2" text-anchor="end">20</text>
<text transform="translate(38.5,641.6) rotate(-90)" font-size="38.5" textLength="534.2" lengthAdjust="spacingAndGlyphs">Energy per cycle (normalized)</text>
<text x="464.9" y="789.2" font-size="38.5">V</text>
<text x="491.3" y="807.9" font-size="28.5">DD</text>
<text x="542.6" y="789.2" font-size="38.5" textLength="84.6" lengthAdjust="spacingAndGlyphs">(mV)</text>
</svg></body></html>
